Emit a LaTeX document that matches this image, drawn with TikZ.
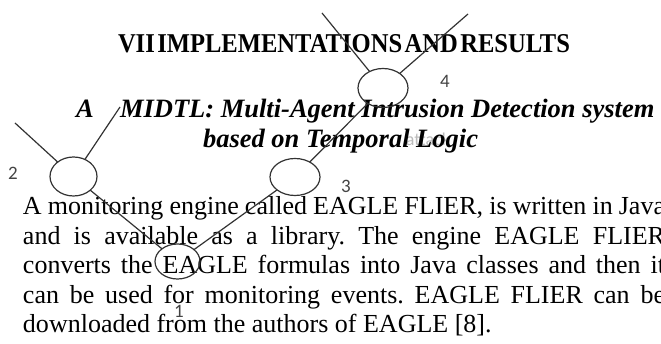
\documentclass[tikz,border=0pt]{standalone}
\usepackage{fontspec}
\setmainfont{Liberation Serif}
\newfontfamily\lblfont{Carlito}
\usepackage{graphicx}
\usetikzlibrary{shapes.geometric}
\definecolor{linec}{HTML}{333333}
\definecolor{lblc}{HTML}{444444}
\definecolor{faint}{HTML}{BBBBBB}
\frenchspacing
\begin{document}
\begin{tikzpicture}[x=1pt,y=-1pt,
  txt/.style={anchor=base west,inner sep=0pt,outer sep=0pt},
  para/.style={txt,font=\fontsize{26}{30}\selectfont},
  subh/.style={txt,font=\fontsize{26.5}{30}\selectfont\bfseries\itshape},
  bub/.style={ellipse,draw=linec,line width=1.2pt,inner sep=0pt,outer sep=0pt},
  conn/.style={draw=linec,line width=1.2pt},
  lbl/.style={inner sep=0pt,text=lblc,font=\lblfont\fontsize{19}{19}\selectfont}]
\path[use as bounding box] (0,0) rectangle (661,344);
\clip (0,0) rectangle (661,344);
\fill[white] (0,0) rectangle (661,344);
% faint background word
\node[lbl,text=faint,font=\lblfont\fontsize{18}{18}\selectfont] (att) at (428,139) {attack};
% heading
\node[txt] (h) at (118,53) {\resizebox{452pt}{18pt}{\bfseries\spaceskip=0.1em VII IMPLEMENTATIONS AND RESULTS}};
\node[subh] (sa) at (76,118) {A};
\node[subh] (sb) at (120,118) {MIDTL: Multi-Agent Intrusion Detection system};
\node[subh] (sc) at (203,148) {based on Temporal Logic};
% paragraph
\node[para] (p1) at (23,215) {\makebox[642pt][s]{A monitoring engine called EAGLE FLIER, is written in Java}};
\node[para] (p2) at (23,244.5) {\makebox[642pt][s]{and is available as a library. The engine EAGLE FLIER}};
\node[para] (p3) at (23,274) {\makebox[642pt][s]{converts the EAGLE formulas into Java classes and then it}};
\node[para] (p4) at (23,303.5) {\makebox[642pt][s]{can be used for monitoring events. EAGLE FLIER can be}};
\node[para] (p5) at (23,333) {downloaded from the authors of EAGLE [8].};
% diagram
\node[bub,minimum width=45pt,minimum height=35pt] (n1) at (177.5,261.5) {};
\node[bub,minimum width=47pt,minimum height=39pt] (n2) at (73.5,176.5) {};
\node[bub,minimum width=50pt,minimum height=37pt] (n3) at (295,177) {};
\node[bub,minimum width=50pt,minimum height=39pt] (n4) at (383,88) {};
\coordinate (e2a) at (15,123);
\coordinate (e2b) at (120,107);
\coordinate (e4a) at (322,13);
\coordinate (e4b) at (468,14);
\draw[conn] (n1) -- (n2);
\draw[conn] (n1) -- (n3);
\draw[conn] (n3) -- (n4);
\draw[conn] (n2) -- (e2a);
\draw[conn] (n2) -- (e2b);
\draw[conn] (n4) -- (e4a);
\draw[conn] (n4) -- (e4b);
\node[lbl] (l1) at (179,311) {1};
\node[lbl] (l2) at (13,173) {2};
\node[lbl] (l3) at (346,186) {3};
\node[lbl] (l4) at (445,81) {4};
\end{tikzpicture}
\end{document}
